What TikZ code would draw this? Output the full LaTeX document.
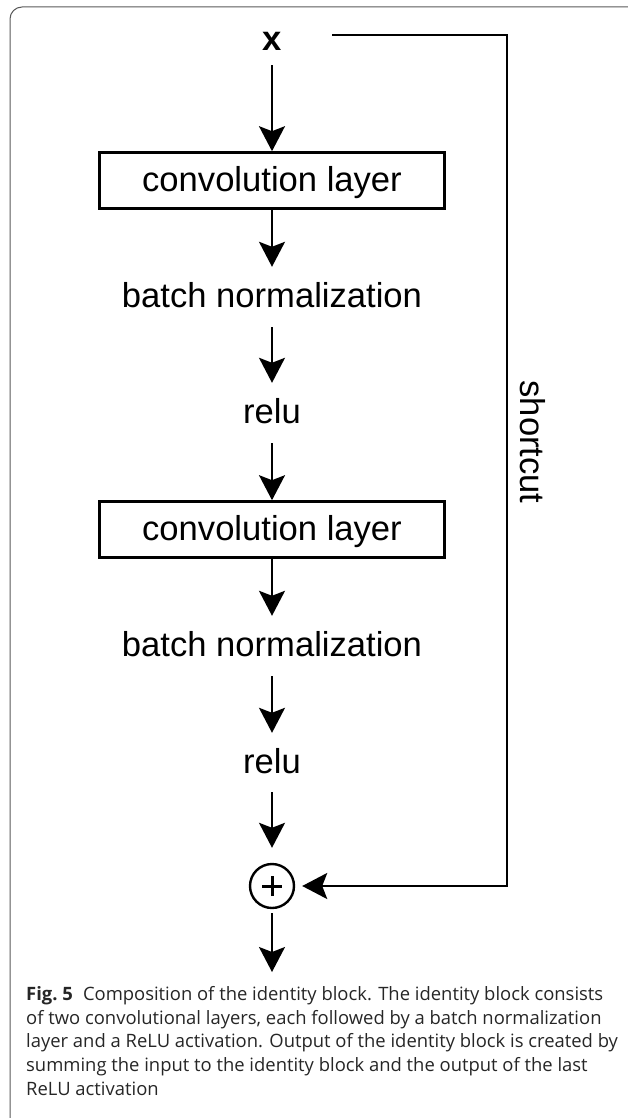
\documentclass[tikz,border=0pt]{standalone}
\usepackage{fontspec}
\setmainfont{Liberation Sans}
\newfontfamily\capfont{Open Sans}
\usetikzlibrary{arrows.meta}

\newlength\capwd

\begin{document}
% caption size: the first caption line spans 577pt
\settowidth\capwd{\capfont\fontsize{17}{20}\selectfont\textbf{Fig.\ 5}\hspace{0.55em}Composition of the identity block. The identity block consists}%
\pgfmathsetmacro\capsize{17*577/\the\capwd}%
\begin{tikzpicture}[x=1pt,y=-1pt,
  lbl/.style={font=\fontsize{34.6}{40}\selectfont, text height=26pt, text depth=5pt, inner sep=0pt},
  layerbox/.style={lbl, draw, line width=2.6pt, minimum width=345pt, minimum height=56pt},
  stage/.style={lbl, minimum height=60pt},
  tipshape/.tip={Stealth[length=25pt, width=26pt, inset=5pt]},
  flow/.style={line width=2pt, -tipshape},
  skip/.style={line width=2.5pt, -tipshape},
  sumnode/.style={circle, draw, line width=2.4pt, inner sep=0pt, minimum size=44pt,
    path picture={
      \draw[line width=3pt] ([xshift=-10pt]path picture bounding box.center) -- ([xshift=10pt]path picture bounding box.center);
      \draw[line width=3pt] ([yshift=-10pt]path picture bounding box.center) -- ([yshift=10pt]path picture bounding box.center);
    }},
  frame/.style={draw=black!65, line width=1pt, rounded corners=12pt},
  caption/.style={inner sep=0pt, align=left, text=black!85, font=\capfont\fontsize{\capsize}{23.75}\selectfont}
]
\useasboundingbox (0,0) rectangle (627,1118);

% page frame, open to the right and below
\draw[frame] (640,7) -- (10,7) -- (10,1130);

% main path of the identity block
\node[lbl, font=\fontsize{34.6}{40}\selectfont\bfseries, minimum width=120pt, minimum height=50pt] (xin) at (272,40) {x};
\node[layerbox] (conv1) at (272,180.5) {convolution layer};
\node[stage] (bn1) at (272,297) {batch normalization};
\node[stage] (relu1) at (272,413) {relu};
\node[layerbox] (conv2) at (272,529.5) {convolution layer};
\node[stage] (bn2) at (272,646) {batch normalization};
\node[stage, minimum height=59pt] (relu2) at (272,762.5) {relu};
\node[sumnode] (sum) at (272,886) {};
\coordinate (out) at (272,972);

\draw[flow] (xin) -- (conv1);
\draw[flow] (conv1) -- (bn1);
\draw[flow] (bn1) -- (relu1);
\draw[flow] (relu1) -- (conv2);
\draw[flow] (conv2) -- (bn2);
\draw[flow] (bn2) -- (relu2);
\draw[flow, shorten >=15pt] (relu2) -- (sum);
\draw[flow, shorten <=4pt] (sum) -- (out);

% identity shortcut
\coordinate (c1) at (507,35);
\coordinate (c2) at (507,886);
\draw[skip, shorten >=7pt] (xin.east |- c1) -- (c1) -- (c2) -- (sum);
\node[lbl, rotate=-90] (sc) at (531,442) {shortcut};

% caption
\node[caption, anchor=north west] (cap) at (26,986) {\textbf{Fig.\ 5}\hspace{0.55em}Composition of the identity block. The identity block consists\\
of two convolutional layers, each followed by a batch normalization\\
layer and a ReLU activation. Output of the identity block is created by\\
summing the input to the identity block and the output of the last\\
ReLU activation};
\end{tikzpicture}
\end{document}
